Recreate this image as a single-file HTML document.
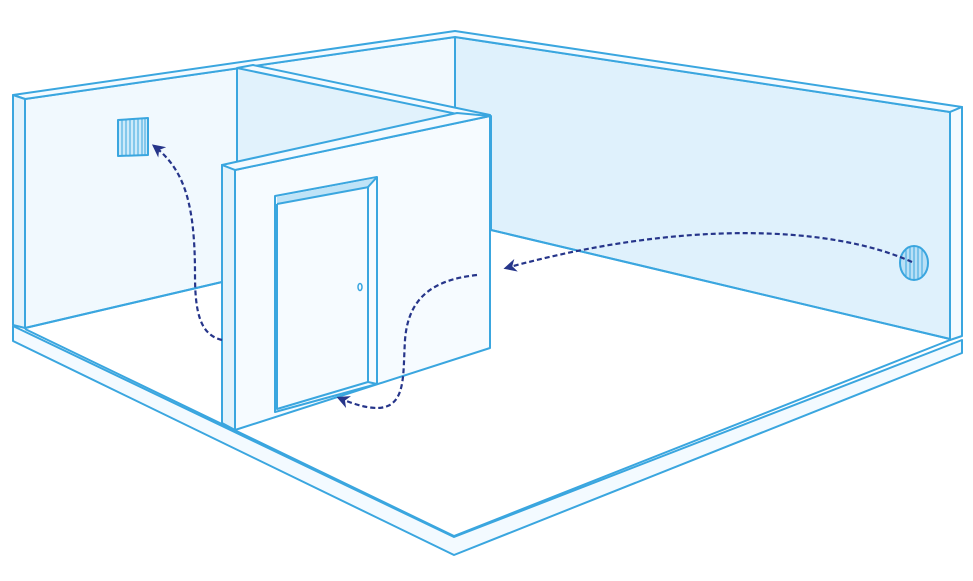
<!DOCTYPE html>
<html><head><meta charset="utf-8"><style>
html,body{margin:0;padding:0;background:#fff;}
svg{display:block;}
</style></head><body>
<svg width="973" height="581" viewBox="0 0 973 581" xmlns="http://www.w3.org/2000/svg">
<defs>
<marker id="ah" viewBox="0 0 10 10" refX="8" refY="5" markerWidth="13" markerHeight="13" markerUnits="userSpaceOnUse" orient="auto-start-reverse">
<path d="M0,0 L10,5 L0,10 L3,5 Z" fill="#26358a"/>
</marker>
</defs>
<g stroke="#3aa6df" stroke-width="2" stroke-linejoin="round" fill="none">
<polygon points="13,326 454,537 962,340 962,353 454,555 13,341" fill="#f3faff"/>
<polygon points="25,329 454,536 950,340" fill="#fff" stroke="none"/>
<polyline points="25,329 454,536 950,340"/>
<polygon points="25,99 455,37 455,112 237,68 237,165 222,165 222,282 25,328" fill="#f1f9fe"/>
<line x1="25" y1="328" x2="222" y2="282"/>
<polygon points="455,37 950,112 950,339 491,230 491,116 470,112 455,112" fill="#dff1fc"/>
<line x1="491" y1="230" x2="950" y2="339"/>
<line x1="455" y1="37" x2="455" y2="112"/>
<polygon points="13,95 455,31 962,107 950,112 455,37 25,99" fill="#f3faff"/>
<polygon points="13,95 25,99 25,328 13,325" fill="#e3f3fc"/>
<polygon points="950,112 962,107 962,336 950,340" fill="#f3faff"/>
<polygon points="237,68 457,114 235,168 237,165" fill="#e1f2fc" stroke="none"/>
<line x1="237" y1="68" x2="237" y2="165"/>
<polygon points="237,68 253,65 490,115 470,116 457,114" fill="#f3faff"/>
<polygon points="235,170 490,116 490,348 235,430" fill="#f6fbff"/>
<polygon points="222,165 457,113 490,116 235,170" fill="#f3faff"/>
<polygon points="222,165 235,170 235,430 222,423" fill="#e3f3fc"/>
<polygon points="275,196 377,177 377,384 275,412" fill="#f6fbff"/>
<polygon points="277,197 376,178 369,187 277,204" fill="#bfe3f7" stroke="none"/>
<line x1="277" y1="204" x2="369" y2="187"/>
<polyline points="277,204 277,409 368,382 368,187 377,177"/>
<line x1="368" y1="382" x2="377" y2="384"/>
<ellipse cx="360" cy="287" rx="2" ry="3.5" stroke-width="1.5"/>
<polygon points="118,120 148,118 148,155 118,156" fill="#cdeafa"/>
<g stroke-width="1">
<line x1="122" y1="120" x2="122" y2="156"/><line x1="126" y1="120" x2="126" y2="156"/><line x1="130" y1="119" x2="130" y2="156"/><line x1="134" y1="119" x2="134" y2="155"/><line x1="138" y1="119" x2="138" y2="155"/><line x1="142" y1="118" x2="142" y2="155"/><line x1="145" y1="118" x2="145" y2="155"/>
</g>
<ellipse cx="914" cy="263" rx="14" ry="17" fill="#b9e0f6"/>
<g stroke-width="1">
<line x1="906" y1="250" x2="906" y2="276"/><line x1="910" y1="247" x2="910" y2="279"/><line x1="914" y1="246" x2="914" y2="280"/><line x1="918" y1="247" x2="918" y2="279"/><line x1="922" y1="250" x2="922" y2="276"/>
</g>
</g>
<g stroke="#26358a" stroke-width="2.2" fill="none" stroke-dasharray="5,3">
<path d="M222,340 C200,335 195,312 195,275 C195,205 185,170 154,146" marker-end="url(#ah)"/>
<path d="M477,275 C430,280 408,300 405,340 C402,385 410,428 339,398" marker-end="url(#ah)"/>
<path d="M912,262 C830,225 680,220 506,268" marker-end="url(#ah)"/>
</g>
</svg>
</body></html>
